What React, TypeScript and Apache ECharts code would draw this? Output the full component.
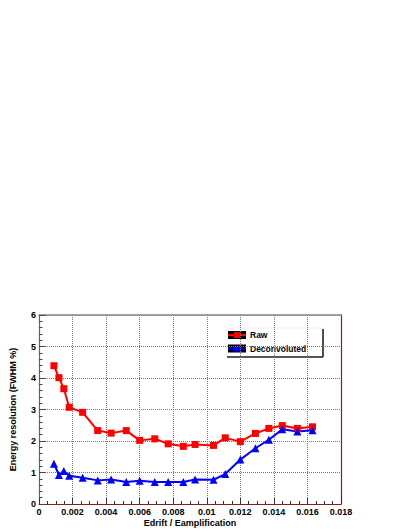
import React, { useEffect, useRef } from "react";
import * as echarts from "echarts";

const xValues = [0.00089, 0.00119, 0.00148, 0.0018, 0.0026, 0.0035, 0.0043, 0.0052, 0.006, 0.0069, 0.0077, 0.0086, 0.0093, 0.0104, 0.0111, 0.012, 0.0129, 0.0137, 0.0145, 0.0154, 0.0163];
const rawValues = [4.39, 4.01, 3.66, 3.07, 2.91, 2.33, 2.25, 2.33, 2.02, 2.07, 1.91, 1.83, 1.89, 1.86, 2.1, 1.98, 2.24, 2.4, 2.49, 2.4, 2.45];
const deconvValues = [1.28, 0.92, 1.05, 0.9, 0.83, 0.75, 0.78, 0.7, 0.74, 0.7, 0.7, 0.7, 0.78, 0.77, 0.95, 1.41, 1.77, 2.04, 2.37, 2.3, 2.34];
const seriesNames = ["Raw", "Deconvoluted"];
const seriesColors = ["#ff0000", "#0000ff"];
const xAxisTitle = "Edrift / Eamplification";
const yAxisTitle = "Energy resolution (FWHM %)";

const FONT = "'Liberation Sans', Arial, Helvetica, sans-serif";
const FRAME_RED = "#8c1c1c";

export default function App() {
  const ref = useRef<HTMLDivElement>(null);
  useEffect(() => {
    if (!ref.current) return;
    const chart = echarts.init(ref.current, null, { renderer: "svg" });
    const fmt = (v: number) => String(parseFloat(v.toFixed(4)));
    const legendChildren: any[] = [
      { type: "rect", shape: { x: 0, y: 0, width: 96, height: 29 }, style: { fill: "#fff", stroke: "#ddd", lineWidth: 0.5 } },
      { type: "line", shape: { x1: 96, y1: 1, x2: 96, y2: 29 }, style: { stroke: "#222", lineWidth: 1.6 } },
      { type: "line", shape: { x1: 0, y1: 29, x2: 96, y2: 29 }, style: { stroke: "#222", lineWidth: 1.6 } },
    ];
    seriesNames.forEach((name, i) => {
      const cy = 7 + i * 13.5;
      legendChildren.push(
        { type: "rect", shape: { x: 1, y: cy - 4, width: 18, height: 8 }, style: { fill: "#000" } },
        { type: "line", shape: { x1: 1, y1: cy, x2: 19, y2: cy }, style: { stroke: seriesColors[i], lineWidth: 2 } },
        i === 0
          ? { type: "rect", shape: { x: 7, y: cy - 3, width: 6, height: 6 }, style: { fill: seriesColors[i] } }
          : { type: "polygon", shape: { points: [[10, cy - 4], [6, cy + 3], [14, cy + 3]] }, style: { fill: seriesColors[i] } },
        { type: "text", x: 23, y: cy, style: { text: name, fontFamily: FONT, fontWeight: "bold", fontSize: 8.5, fill: "#000", verticalAlign: "middle", align: "left" } }
      );
    });
    chart.setOption({
      animation: false,
      backgroundColor: "#fff",
      grid: { left: 38, top: 315, width: 303, height: 189, show: false },
      xAxis: [
        {
          type: "value", min: 0, max: 0.018, interval: 0.002,
          name: xAxisTitle, nameLocation: "middle", nameGap: 14,
          nameTextStyle: { fontFamily: FONT, fontWeight: "bold", fontSize: 9, color: "#000" },
          axisLine: { show: true, onZero: false, lineStyle: { color: FRAME_RED, width: 1.2 } },
          axisTick: { show: true, inside: true, length: 6, lineStyle: { color: "#333" } },
          minorTick: { show: true, splitNumber: 4, length: 3, lineStyle: { color: "#333" } },
          axisLabel: { formatter: fmt, fontFamily: FONT, fontWeight: "bold", fontSize: 9, color: "#000", margin: 3, showMinLabel: true, showMaxLabel: true },
          splitLine: { show: true, lineStyle: { color: "#777", type: "dotted", width: 1 } },
        },
        {
          type: "value", min: 0, max: 0.018, interval: 0.002, position: "top",
          axisLine: { show: true, onZero: false, lineStyle: { color: "#888", width: 1.5 } },
          axisTick: { show: false }, axisLabel: { show: false }, splitLine: { show: false },
        },
      ],
      yAxis: [
        {
          type: "value", min: 0, max: 6, interval: 1,
          name: yAxisTitle, nameLocation: "middle", nameGap: 22,
          nameTextStyle: { fontFamily: FONT, fontWeight: "bold", fontSize: 9, color: "#000" },
          axisLine: { show: true, onZero: false, lineStyle: { color: "#666", width: 1.2 } },
          axisTick: { show: true, inside: true, length: 7, lineStyle: { color: "#444" } },
          minorTick: { show: true, splitNumber: 5, length: 3.5, lineStyle: { color: "#444" } },
          axisLabel: { fontFamily: FONT, fontWeight: "bold", fontSize: 9, color: "#000", margin: 3 },
          splitLine: { show: true, lineStyle: { color: "#777", type: "dotted", width: 1 } },
        },
        {
          type: "value", min: 0, max: 6, interval: 1, position: "right",
          axisLine: { show: true, onZero: false, lineStyle: { color: FRAME_RED, width: 1.2 } },
          axisTick: { show: false }, axisLabel: { show: false }, splitLine: { show: false },
        },
      ],
      series: [
        {
          name: seriesNames[0], type: "line",
          data: xValues.map((x, i) => [x, rawValues[i]]),
          symbol: "rect", symbolSize: 7,
          itemStyle: { color: seriesColors[0] },
          lineStyle: { color: seriesColors[0], width: 2 },
        },
        {
          name: seriesNames[1], type: "line",
          data: xValues.map((x, i) => [x, deconvValues[i]]),
          symbol: "triangle", symbolSize: 8,
          itemStyle: { color: seriesColors[1] },
          lineStyle: { color: seriesColors[1], width: 2 },
        },
      ],
      graphic: [{ type: "group", x: 227, y: 328, children: legendChildren }],
    });
    return () => chart.dispose();
  }, []);
  return <div ref={ref} style={{ position: "absolute", left: 0, top: 0, width: 409, height: 529 }} />;
}
